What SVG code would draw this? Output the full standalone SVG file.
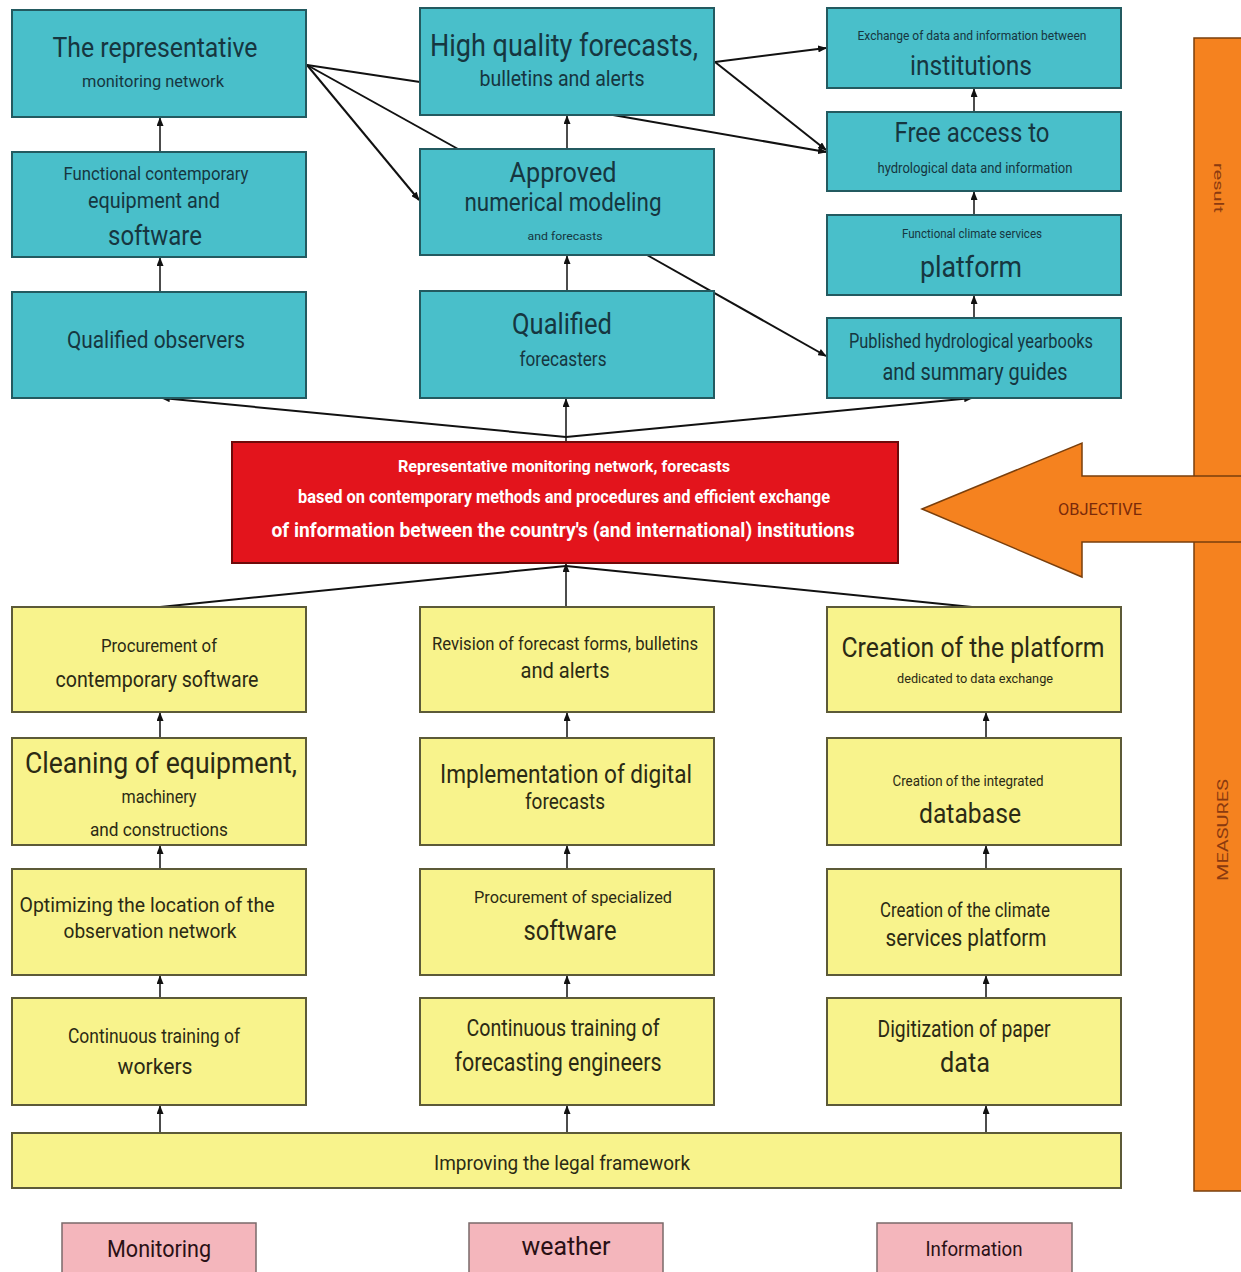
<svg xmlns="http://www.w3.org/2000/svg" width="1241" height="1272" viewBox="0 0 1241 1272">
<style>
.t{font-family:Roboto,"Liberation Sans",sans-serif;text-anchor:middle}
.tt{fill:#163640}
.ty{fill:#2b2a14}
.tp{fill:#2a1015}
.teal{fill:#49BFCA;stroke:#235a60;stroke-width:2}
.yel{fill:#F8F38C;stroke:#5c5a38;stroke-width:2}
.pink{fill:#F4B6BC;stroke:#7a6a6a;stroke-width:1.5}
.red{fill:#E3141C;stroke:#6e0a0a;stroke-width:2}
.or{fill:#F5821F;stroke:#7a3f0c;stroke-width:1.5}
.c{stroke:#111;stroke-width:2;fill:none}
.c1{stroke:#111;stroke-width:1.5;fill:none}
</style>
<defs>
<marker id="ah" viewBox="0 0 10 8" refX="9" refY="4" markerWidth="9" markerHeight="7" markerUnits="userSpaceOnUse" orient="auto">
<path d="M0,0 L10,4 L0,8 z" fill="#111"/>
</marker>
</defs>
<rect width="1241" height="1272" fill="#fff"/>

<g id="side-bar">
<rect class="or" x="1194" y="38" width="52" height="1153"/>
<text class="t" x="0" y="0" font-size="13" fill="#8a3a10" transform="translate(1214,188) rotate(90)" textLength="50" lengthAdjust="spacingAndGlyphs">result</text>
<text class="t" x="0" y="0" font-size="15" fill="#8a3a10" transform="translate(1228,830) rotate(-90)" textLength="102" lengthAdjust="spacingAndGlyphs">MEASURES</text>
</g>
<g id="objective-arrow">
<polygon class="or" points="922,509 1082,443 1082,476 1245,476 1245,542 1082,542 1082,577"/>
<text class="t" x="1100" y="515" font-size="16" fill="#7a2a0a" textLength="84" lengthAdjust="spacingAndGlyphs">OBJECTIVE</text>
</g>

<g id="connectors">
<line class="c1" x1="160" y1="152" x2="160" y2="118" marker-end="url(#ah)"/>
<line class="c1" x1="160" y1="292" x2="160" y2="258" marker-end="url(#ah)"/>
<line class="c1" x1="567" y1="149" x2="567" y2="116" marker-end="url(#ah)"/>
<line class="c1" x1="567" y1="291" x2="567" y2="256" marker-end="url(#ah)"/>
<line class="c1" x1="974" y1="112" x2="974" y2="89" marker-end="url(#ah)"/>
<line class="c1" x1="974" y1="215" x2="974" y2="192" marker-end="url(#ah)"/>
<line class="c1" x1="974" y1="318" x2="974" y2="296" marker-end="url(#ah)"/>
<line class="c" x1="307" y1="65" x2="420" y2="82"/>
<line class="c" x1="307" y1="65" x2="458" y2="149"/>
<line class="c" x1="307" y1="65" x2="419" y2="200" marker-end="url(#ah)"/>
<line class="c" x1="715" y1="62" x2="826" y2="48" marker-end="url(#ah)"/>
<line class="c" x1="715" y1="62" x2="826" y2="150" marker-end="url(#ah)"/>
<line class="c" x1="613" y1="115" x2="826" y2="152" marker-end="url(#ah)"/>
<line class="c" x1="647" y1="255" x2="826" y2="356" marker-end="url(#ah)"/>
<line class="c" x1="566" y1="437" x2="162" y2="398" marker-end="url(#ah)"/>
<line class="c1" x1="566" y1="442" x2="566" y2="399" marker-end="url(#ah)"/>
<line class="c" x1="566" y1="437" x2="972" y2="398" marker-end="url(#ah)"/>
<line class="c" x1="160" y1="607" x2="566" y2="566"/>
<line class="c" x1="972" y1="607" x2="566" y2="566"/>
<line class="c1" x1="566" y1="607" x2="566" y2="564" marker-end="url(#ah)"/>
<line class="c1" x1="160" y1="738" x2="160" y2="713" marker-end="url(#ah)"/>
<line class="c1" x1="160" y1="869" x2="160" y2="846" marker-end="url(#ah)"/>
<line class="c1" x1="160" y1="998" x2="160" y2="976" marker-end="url(#ah)"/>
<line class="c1" x1="160" y1="1133" x2="160" y2="1106" marker-end="url(#ah)"/>
<line class="c1" x1="567" y1="738" x2="567" y2="713" marker-end="url(#ah)"/>
<line class="c1" x1="567" y1="869" x2="567" y2="846" marker-end="url(#ah)"/>
<line class="c1" x1="567" y1="998" x2="567" y2="976" marker-end="url(#ah)"/>
<line class="c1" x1="567" y1="1133" x2="567" y2="1106" marker-end="url(#ah)"/>
<line class="c1" x1="986" y1="738" x2="986" y2="713" marker-end="url(#ah)"/>
<line class="c1" x1="986" y1="869" x2="986" y2="846" marker-end="url(#ah)"/>
<line class="c1" x1="986" y1="998" x2="986" y2="976" marker-end="url(#ah)"/>
<line class="c1" x1="986" y1="1133" x2="986" y2="1106" marker-end="url(#ah)"/>
</g>

<g id="n-representative">
<rect class="teal" x="12" y="10" width="294" height="107"/>
<text class="t tt" x="155" y="57" font-size="28" textLength="205" lengthAdjust="spacingAndGlyphs">The representative</text>
<text class="t tt" x="153" y="87" font-size="16" textLength="142" lengthAdjust="spacingAndGlyphs">monitoring network</text>
</g>
<g id="n-equipment">
<rect class="teal" x="12" y="152" width="294" height="105"/>
<text class="t tt" x="156" y="180" font-size="18" textLength="185" lengthAdjust="spacingAndGlyphs">Functional contemporary</text>
<text class="t tt" x="154" y="208" font-size="22" textLength="132" lengthAdjust="spacingAndGlyphs">equipment and</text>
<text class="t tt" x="155" y="245" font-size="27" textLength="94" lengthAdjust="spacingAndGlyphs">software</text>
</g>
<g id="n-observers">
<rect class="teal" x="12" y="292" width="294" height="106"/>
<text class="t tt" x="156" y="348" font-size="24" textLength="178" lengthAdjust="spacingAndGlyphs">Qualified observers</text>
</g>

<g id="n-forecasts">
<rect class="teal" x="420" y="8" width="294" height="107"/>
<text class="t tt" x="564" y="56" font-size="31" textLength="268" lengthAdjust="spacingAndGlyphs">High quality forecasts,</text>
<text class="t tt" x="562" y="86" font-size="22" textLength="165" lengthAdjust="spacingAndGlyphs">bulletins and alerts</text>
</g>
<g id="n-modeling">
<rect class="teal" x="420" y="149" width="294" height="106"/>
<text class="t tt" x="563" y="182" font-size="28" textLength="107" lengthAdjust="spacingAndGlyphs">Approved</text>
<text class="t tt" x="563" y="211" font-size="26" textLength="197" lengthAdjust="spacingAndGlyphs">numerical modeling</text>
<text class="t tt" x="565" y="240" font-size="11" textLength="75" lengthAdjust="spacingAndGlyphs">and forecasts</text>
</g>
<g id="n-forecasters">
<rect class="teal" x="420" y="291" width="294" height="107"/>
<text class="t tt" x="562" y="334" font-size="30" textLength="100" lengthAdjust="spacingAndGlyphs">Qualified</text>
<text class="t tt" x="563" y="366" font-size="20" textLength="87" lengthAdjust="spacingAndGlyphs">forecasters</text>
</g>

<g id="n-institutions">
<rect class="teal" x="827" y="8" width="294" height="80"/>
<text class="t tt" x="972" y="40" font-size="13" textLength="229" lengthAdjust="spacingAndGlyphs">Exchange of data and information between</text>
<text class="t tt" x="971" y="75" font-size="28" textLength="122" lengthAdjust="spacingAndGlyphs">institutions</text>
</g>
<g id="n-free-access">
<rect class="teal" x="827" y="112" width="294" height="79"/>
<text class="t tt" x="972" y="142" font-size="28" textLength="155" lengthAdjust="spacingAndGlyphs">Free access to</text>
<text class="t tt" x="975" y="173" font-size="14" textLength="195" lengthAdjust="spacingAndGlyphs">hydrological data and information</text>
</g>
<g id="n-platform">
<rect class="teal" x="827" y="215" width="294" height="80"/>
<text class="t tt" x="972" y="238" font-size="13" textLength="140" lengthAdjust="spacingAndGlyphs">Functional climate services</text>
<text class="t tt" x="971" y="277" font-size="30" textLength="102" lengthAdjust="spacingAndGlyphs">platform</text>
</g>
<g id="n-yearbooks">
<rect class="teal" x="827" y="318" width="294" height="80"/>
<text class="t tt" x="971" y="348" font-size="20" textLength="244" lengthAdjust="spacingAndGlyphs">Published hydrological yearbooks</text>
<text class="t tt" x="975" y="380" font-size="24" textLength="185" lengthAdjust="spacingAndGlyphs">and summary guides</text>
</g>

<g id="n-goal">
<rect class="red" x="232" y="442" width="666" height="121"/>
<text class="t" x="564" y="472" font-size="17" font-weight="bold" fill="#fff" textLength="332" lengthAdjust="spacingAndGlyphs">Representative monitoring network, forecasts</text>
<text class="t" x="564" y="503" font-size="19" font-weight="bold" fill="#fff" textLength="532" lengthAdjust="spacingAndGlyphs">based on contemporary methods and procedures and efficient exchange</text>
<text class="t" x="563" y="537" font-size="21" font-weight="bold" fill="#fff" textLength="583" lengthAdjust="spacingAndGlyphs">of information between the country's (and international) institutions</text>
</g>

<g id="n-procure-software">
<rect class="yel" x="12" y="607" width="294" height="105"/>
<text class="t ty" x="159" y="652" font-size="18" textLength="116" lengthAdjust="spacingAndGlyphs">Procurement of</text>
<text class="t ty" x="157" y="687" font-size="22" textLength="203" lengthAdjust="spacingAndGlyphs">contemporary software</text>
</g>
<g id="n-cleaning">
<rect class="yel" x="12" y="738" width="294" height="107"/>
<text class="t ty" x="161" y="773" font-size="30" textLength="272" lengthAdjust="spacingAndGlyphs">Cleaning of equipment,</text>
<text class="t ty" x="159" y="803" font-size="18" textLength="75" lengthAdjust="spacingAndGlyphs">machinery</text>
<text class="t ty" x="159" y="836" font-size="18" textLength="138" lengthAdjust="spacingAndGlyphs">and constructions</text>
</g>
<g id="n-optimizing">
<rect class="yel" x="12" y="869" width="294" height="106"/>
<text class="t ty" x="147" y="912" font-size="21" textLength="255" lengthAdjust="spacingAndGlyphs">Optimizing the location of the</text>
<text class="t ty" x="150" y="938" font-size="21" textLength="173" lengthAdjust="spacingAndGlyphs">observation network</text>
</g>
<g id="n-training-workers">
<rect class="yel" x="12" y="998" width="294" height="107"/>
<text class="t ty" x="154" y="1043" font-size="20" textLength="172" lengthAdjust="spacingAndGlyphs">Continuous training of</text>
<text class="t ty" x="155" y="1074" font-size="22" textLength="75" lengthAdjust="spacingAndGlyphs">workers</text>
</g>

<g id="n-revision">
<rect class="yel" x="420" y="607" width="294" height="105"/>
<text class="t ty" x="565" y="650" font-size="18" textLength="266" lengthAdjust="spacingAndGlyphs">Revision of forecast forms, bulletins</text>
<text class="t ty" x="565" y="678" font-size="22" textLength="89" lengthAdjust="spacingAndGlyphs">and alerts</text>
</g>
<g id="n-digital">
<rect class="yel" x="420" y="738" width="294" height="107"/>
<text class="t ty" x="566" y="783" font-size="26" textLength="252" lengthAdjust="spacingAndGlyphs">Implementation of digital</text>
<text class="t ty" x="565" y="809" font-size="22" textLength="80" lengthAdjust="spacingAndGlyphs">forecasts</text>
</g>
<g id="n-specialized">
<rect class="yel" x="420" y="869" width="294" height="106"/>
<text class="t ty" x="573" y="903" font-size="17" textLength="198" lengthAdjust="spacingAndGlyphs">Procurement of specialized</text>
<text class="t ty" x="570" y="940" font-size="28" textLength="93" lengthAdjust="spacingAndGlyphs">software</text>
</g>
<g id="n-training-engineers">
<rect class="yel" x="420" y="998" width="294" height="107"/>
<text class="t ty" x="563" y="1036" font-size="24" textLength="193" lengthAdjust="spacingAndGlyphs">Continuous training of</text>
<text class="t ty" x="558" y="1071" font-size="26" textLength="207" lengthAdjust="spacingAndGlyphs">forecasting engineers</text>
</g>

<g id="n-create-platform">
<rect class="yel" x="827" y="607" width="294" height="105"/>
<text class="t ty" x="973" y="657" font-size="28" textLength="263" lengthAdjust="spacingAndGlyphs">Creation of the platform</text>
<text class="t ty" x="975" y="683" font-size="13" textLength="156" lengthAdjust="spacingAndGlyphs">dedicated to data exchange</text>
</g>
<g id="n-database">
<rect class="yel" x="827" y="738" width="294" height="107"/>
<text class="t ty" x="968" y="786" font-size="15" textLength="151" lengthAdjust="spacingAndGlyphs">Creation of the integrated</text>
<text class="t ty" x="970" y="823" font-size="28" textLength="102" lengthAdjust="spacingAndGlyphs">database</text>
</g>
<g id="n-climate-platform">
<rect class="yel" x="827" y="869" width="294" height="106"/>
<text class="t ty" x="965" y="917" font-size="20" textLength="170" lengthAdjust="spacingAndGlyphs">Creation of the climate</text>
<text class="t ty" x="966" y="946" font-size="24" textLength="161" lengthAdjust="spacingAndGlyphs">services platform</text>
</g>
<g id="n-digitization">
<rect class="yel" x="827" y="998" width="294" height="107"/>
<text class="t ty" x="964" y="1037" font-size="24" textLength="173" lengthAdjust="spacingAndGlyphs">Digitization of paper</text>
<text class="t ty" x="965" y="1072" font-size="28" textLength="50" lengthAdjust="spacingAndGlyphs">data</text>
</g>

<g id="n-legal">
<rect class="yel" x="12" y="1133" width="1109" height="55"/>
<text class="t ty" x="562" y="1170" font-size="20" textLength="256" lengthAdjust="spacingAndGlyphs">Improving the legal framework</text>
</g>

<g id="n-monitoring">
<rect class="pink" x="62" y="1223" width="194" height="55"/>
<text class="t tp" x="159" y="1257" font-size="24" textLength="104" lengthAdjust="spacingAndGlyphs">Monitoring</text>
</g>
<g id="n-weather">
<rect class="pink" x="469" y="1223" width="194" height="55"/>
<text class="t tp" x="566" y="1255" font-size="25" textLength="89" lengthAdjust="spacingAndGlyphs">weather</text>
</g>
<g id="n-information">
<rect class="pink" x="877" y="1223" width="195" height="55"/>
<text class="t tp" x="974" y="1256" font-size="20" textLength="97" lengthAdjust="spacingAndGlyphs">Information</text>
</g>
</svg>
